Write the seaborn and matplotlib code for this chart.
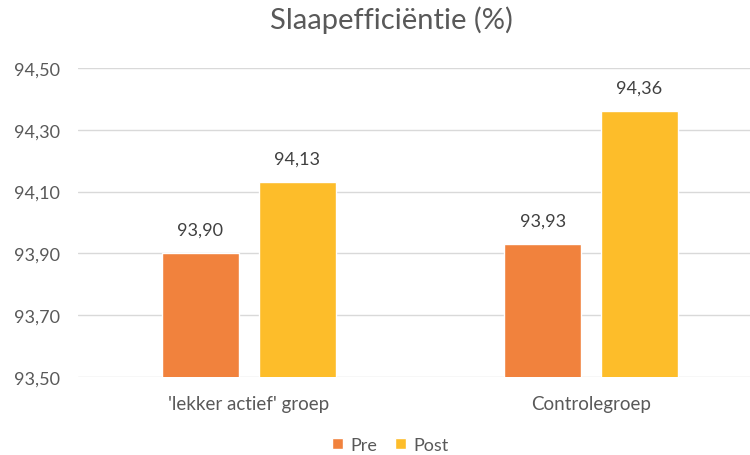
import matplotlib
matplotlib.use("Agg")
import matplotlib.pyplot as plt
import seaborn as sns
import pandas as pd

# Data
groups = ["'lekker actief' groep", "Controlegroep"]
phases = ["Pre", "Post"]
pre_values = [93.90, 93.93]
post_values = [94.13, 94.36]
y_ticks = [93.50, 93.70, 93.90, 94.10, 94.30, 94.50]
colors = ["#F1823D", "#FDBD2A"]

df = pd.DataFrame({
    "groep": groups * 2,
    "fase": [phases[0]] * 2 + [phases[1]] * 2,
    "waarde": pre_values + post_values,
})

sns.set_theme(style="white")
plt.rcParams["font.family"] = ["Lato", "DejaVu Sans"]

fig = plt.figure(figsize=(7.5, 4.56), dpi=100)
ax = fig.add_axes([78 / 750, 78 / 456, 1 - 78 / 750, 309 / 456])

sns.barplot(data=df, x="groep", y="waarde", hue="fase", palette=colors,
            width=0.566, gap=0.205, ax=ax, saturation=1, legend=True)

ax.set_ylim(93.5, 94.5)
ax.set_xlim(-0.498, 1.464)
ax.set_yticks(y_ticks)
ax.set_yticklabels([f"{v:.2f}".replace(".", ",") for v in y_ticks])
ax.yaxis.grid(True, color="#D9D9D9", linewidth=1)
ax.set_axisbelow(True)
for s in ax.spines.values():
    s.set_visible(False)
ax.tick_params(axis="y", length=0, labelsize=13, labelcolor="#595959", pad=13)
ax.tick_params(axis="x", length=0, labelsize=13.5, labelcolor="#595959", pad=13)
ax.set_xlabel("")
ax.set_ylabel("")

for cont in ax.containers:
    ax.bar_label(cont, labels=[f"{v:.2f}".replace(".", ",") for v in cont.datavalues],
                 padding=11, fontsize=13, color="#404040")

ax.legend(loc="center", bbox_to_anchor=((390 - 78) / 672, -0.22),
          ncol=2, frameon=False, fontsize=13, handlelength=0.6, handleheight=0.6,
          handletextpad=0.4, columnspacing=1.0, labelcolor="#595959")

fig.suptitle("Slaapefficiëntie (%)", x=391 / 750, y=0.985, fontsize=21, color="#595959")

fig.savefig("out.png", dpi=100)
